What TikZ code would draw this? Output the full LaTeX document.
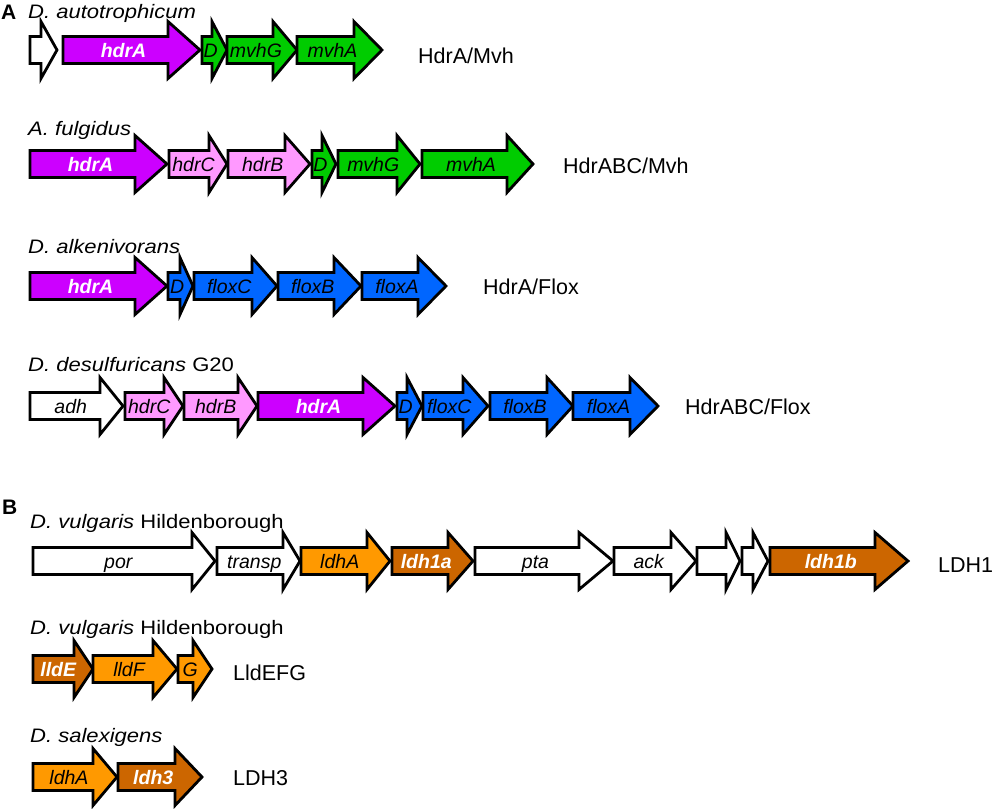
\documentclass[tikz,border=0pt]{standalone}
\usepackage{fontspec}
\setmainfont{Liberation Sans}
\newfontfamily\spfont[FakeStretch=1.13]{Liberation Sans}
\definecolor{cpurple}{RGB}{204,0,255}
\definecolor{cpink}{RGB}{255,153,255}
\definecolor{cgreen}{RGB}{0,204,0}
\definecolor{cblue}{RGB}{0,102,255}
\definecolor{corange}{RGB}{255,153,0}
\definecolor{cbrown}{RGB}{204,102,0}
\tikzset{
  genebox/.style={draw=black,line width=2.8pt,line join=miter},
  gtxt/.style={anchor=base,inner sep=0pt,font=\fontsize{19.5}{20}\selectfont\itshape},
  gwtxt/.style={anchor=base,inner sep=0pt,text=white,font=\fontsize{19.5}{20}\selectfont\bfseries\itshape},
  species/.style={anchor=base west,inner sep=0pt,font=\spfont\fontsize{19.5}{22}\selectfont},
  sysname/.style={anchor=base west,inner sep=0pt,font=\fontsize{21.5}{24}\selectfont},
  panel/.style={anchor=base west,inner sep=0pt,font=\fontsize{21}{22}\selectfont\bfseries}
}
% #1 start, #2 head base, #3 tip, #4 y centre, #5 fill, #6 text, #7 text style, #8 name
\newcommand{\gn}[8]{%
  \draw[genebox,fill=#5] (#1,#4-13.5) -- (#2,#4-13.5) -- (#2,#4-28.5) -- (#3,#4)
     -- (#2,#4+28.5) -- (#2,#4+13.5) -- (#1,#4+13.5) -- cycle;
  \node[#7] (#8) at ({(#1+(#2+#3)/2)/2},#4+7) {#6};
}
\begin{document}
\begin{tikzpicture}[x=1pt,y=-1pt]
\useasboundingbox (0,0) rectangle (994,809);
% panel A
\node[panel] (pA) at (1,19) {A};
\node[species] (sp1) at (28,18) {\itshape D. autotrophicum};
\gn{30}{41}{57}{50}{white}{}{gtxt}{a0}
\gn{63}{168}{200}{50}{cpurple}{hdrA}{gwtxt}{a1}
\gn{202}{212}{227}{50}{cgreen}{D}{gtxt}{a2}
\gn{227}{273}{297}{50}{cgreen}{mvhG}{gtxt}{a3}
\gn{297}{354}{382}{50}{cgreen}{mvhA}{gtxt}{a4}
\node[sysname] (s1) at (418,63) {HdrA/Mvh};

\node[species] (sp2) at (28,135) {\itshape A. fulgidus};
\gn{30}{135}{167}{164}{cpurple}{hdrA}{gwtxt}{b1}
\gn{169}{209}{227}{164}{cpink}{hdrC}{gtxt}{b2}
\gn{228}{285}{310}{164}{cpink}{hdrB}{gtxt}{b3}
\gn{312}{322}{336}{164}{cgreen}{D}{gtxt}{b4}
\gn{338}{397}{420}{164}{cgreen}{mvhG}{gtxt}{b5}
\gn{422}{507}{533}{164}{cgreen}{mvhA}{gtxt}{b6}
\node[sysname] (s2) at (563,173) {HdrABC/Mvh};

\node[species] (sp3) at (28,253) {\itshape D. alkenivorans};
\gn{30}{135}{167}{286}{cpurple}{hdrA}{gwtxt}{c1}
\gn{168}{180}{193}{286}{cblue}{D}{gtxt}{c2}
\gn{194}{252}{277}{286}{cblue}{floxC}{gtxt}{c3}
\gn{278}{334}{361}{286}{cblue}{floxB}{gtxt}{c4}
\gn{362}{418}{446}{286}{cblue}{floxA}{gtxt}{c5}
\node[sysname] (s3) at (483,294) {HdrA/Flox};

\node[species] (sp4) at (28,371) {\itshape D. desulfuricans\/\upshape{} G20};
\gn{30}{100}{123}{406}{white}{adh}{gtxt}{d1}
\gn{125}{164}{183}{406}{cpink}{hdrC}{gtxt}{d2}
\gn{184}{238}{257}{406}{cpink}{hdrB}{gtxt}{d3}
\gn{258}{363}{395}{406}{cpurple}{hdrA}{gwtxt}{d4}
\gn{397}{407}{422}{406}{cblue}{D}{gtxt}{d5}
\gn{423}{463}{488}{406}{cblue}{floxC}{gtxt}{d6}
\gn{490}{547}{573}{406}{cblue}{floxB}{gtxt}{d7}
\gn{573}{630}{658}{406}{cblue}{floxA}{gtxt}{d8}
\node[sysname] (s4) at (685,414) {HdrABC/Flox};

% panel B
\node[panel] (pB) at (2,514) {B};
\node[species] (sp5) at (30,528) {\itshape D. vulgaris\/\upshape{} Hildenborough};
\gn{33}{192}{215}{561}{white}{por}{gtxt}{e1}
\gn{217}{283}{300}{561}{white}{transp}{gtxt}{e2}
\gn{301}{367}{390}{561}{corange}{ldhA}{gtxt}{e3}
\gn{392}{448}{473}{561}{cbrown}{ldh1a}{gwtxt}{e4}
\gn{475}{579}{613}{561}{white}{pta}{gtxt}{e5}
\gn{614}{671}{696}{561}{white}{ack}{gtxt}{e6}
\gn{697}{726}{740}{561}{white}{}{gtxt}{e7}
\gn{742}{753}{768}{561}{white}{}{gtxt}{e8}
\gn{770}{875}{908}{561}{cbrown}{ldh1b}{gwtxt}{e9}
\node[sysname] (s5) at (938,572) {LDH1};

\node[species] (sp6) at (30,634) {\itshape D. vulgaris\/\upshape{} Hildenborough};
\gn{33}{74}{93}{669}{cbrown}{lldE}{gwtxt}{f1}
\gn{93}{153}{177}{669}{corange}{lldF}{gtxt}{f2}
\gn{178}{193}{212}{669}{corange}{G}{gtxt}{f3}
\node[sysname] (s6) at (233,680) {LldEFG};

\node[species] (sp7) at (30,742) {\itshape D. salexigens};
\gn{33}{93}{117}{777}{corange}{ldhA}{gtxt}{g1}
\gn{118}{175}{202}{777}{cbrown}{ldh3}{gwtxt}{g2}
\node[sysname] (s7) at (233,785) {LDH3};
\end{tikzpicture}
\end{document}
